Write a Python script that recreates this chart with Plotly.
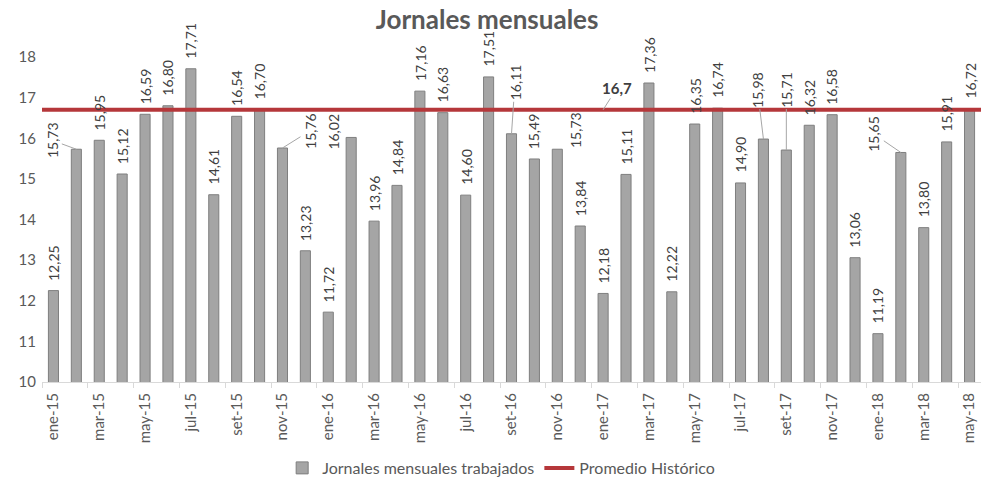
import plotly.graph_objects as go

months = ["ene", "feb", "mar", "abr", "may", "jun", "jul", "ago", "set", "oct", "nov", "dic"]
categories = [f"{m}-{y}" for y in ["15", "16", "17"] for m in months] + [f"{m}-18" for m in months[:5]]

jornales = [12.25, 15.73, 15.95, 15.12, 16.59, 16.80, 17.71, 14.61, 16.54, 16.70, 15.76, 13.23,
            11.72, 16.02, 13.96, 14.84, 17.16, 16.63, 14.60, 17.51, 16.11, 15.49, 15.73, 13.84,
            12.18, 15.11, 17.36, 12.22, 16.35, 16.74, 14.90, 15.98, 15.71, 16.32, 16.58, 13.06,
            11.19, 15.65, 13.80, 15.91, 16.72]
promedio = 16.7

# Manually moved data labels (pixel offsets of label centre from bar top), as in the original
leader_labels = {1: (-24.5, -9), 10: (28, -17.5), 20: (3.5, -51.5), 31: (-6, -49.5),
                 32: (0, -60.5), 37: (-27, -18.5)}
shifted_labels = {13: (-18, 6), 22: (18, 19.5)}

n = len(categories)
xs = list(range(n))
font = "Lato, 'Open Sans', sans-serif"
grey_txt = "#595959"
label_font = dict(family=font, size=14, color="#404040")

fig = go.Figure()
fig.add_trace(go.Bar(
    x=xs, y=jornales, name="Jornales mensuales trabajados",
    marker=dict(color="#A5A5A5", line=dict(color="#7F7F7F", width=1)),
    width=0.44,
))
fig.add_trace(go.Scatter(
    x=[-0.5, n - 0.5], y=[promedio, promedio], mode="lines",
    name="Promedio Histórico", line=dict(color="#B5373A", width=4),
))

def fmt(v, d=2):
    return f"{v:.{d}f}".replace(".", ",")

annotations = []
for x, v in zip(xs, jornales):
    if x in leader_labels:
        ax, ay = leader_labels[x]
        annotations.append(dict(
            x=x, y=v, text=fmt(v), showarrow=True, arrowhead=0, arrowwidth=1,
            arrowcolor="#A6A6A6", ax=ax, ay=ay, textangle=-90,
            xanchor="center", yanchor="middle", font=label_font,
        ))
    elif x in shifted_labels:
        dx, dy = shifted_labels[x]
        annotations.append(dict(
            x=x, y=v, text=fmt(v), showarrow=False, textangle=-90,
            xanchor="center", yanchor="middle", xshift=dx, yshift=dy, font=label_font,
        ))
    else:
        annotations.append(dict(
            x=x, y=v, text=fmt(v), showarrow=False, textangle=-90,
            xanchor="center", yanchor="bottom", yshift=8, font=label_font,
        ))
annotations.append(dict(
    x=24, y=promedio, text="<b>" + fmt(promedio, 1) + "</b>",
    showarrow=True, arrowhead=0, arrowwidth=1, arrowcolor="#A6A6A6",
    ax=14, ay=-22, xanchor="center", yanchor="middle",
    font=dict(family=font, size=15, color="#404040"),
))

fig.update_layout(
    width=984, height=479,
    margin=dict(l=42, r=3, t=57, b=97),
    paper_bgcolor="white", plot_bgcolor="white",
    title=dict(text="<b>Jornales mensuales</b>", x=0.495, xanchor="center", y=0.958, yanchor="middle",
               font=dict(family=font, size=26, color=grey_txt)),
    font=dict(family=font, color=grey_txt),
    showlegend=True,
    legend=dict(orientation="h", x=0.489, xanchor="center", yref="container", y=0.023, yanchor="middle",
                font=dict(family=font, size=16, color=grey_txt)),
    annotations=annotations,
    xaxis=dict(
        range=[-0.5, n - 0.5], tickmode="array", tickvals=xs[::2], ticktext=categories[::2],
        tickangle=-90, tickfont=dict(family=font, size=15, color=grey_txt),
        showgrid=False, zeroline=False, showline=True, linecolor="#D9D9D9", linewidth=1,
        ticks="", fixedrange=True, automargin=False, ticklabelstandoff=4,
    ),
    xaxis2=dict(
        overlaying="x", matches="x", range=[-0.5, n - 0.5], tickmode="array",
        tickvals=[i - 0.5 for i in range(0, n + 1, 2)], showticklabels=False,
        ticks="outside", ticklen=5, tickcolor="#D9D9D9", showgrid=False, zeroline=False,
        side="bottom", anchor="y", automargin=False,
    ),
    yaxis=dict(
        range=[10, 18], dtick=1, showgrid=False, zeroline=False, showline=False,
        tickfont=dict(family=font, size=15, color=grey_txt), ticks="", ticklabelstandoff=5,
        automargin=False,
    ),
)
fig.add_trace(go.Scatter(x=[-0.5], y=[10], xaxis="x2", mode="markers",
                         marker=dict(opacity=0), showlegend=False, hoverinfo="skip"))

fig.write_html("out.html", config={"displayModeBar": False},
               post_script="document.body.style.margin='0';document.body.style.overflow='hidden';")
